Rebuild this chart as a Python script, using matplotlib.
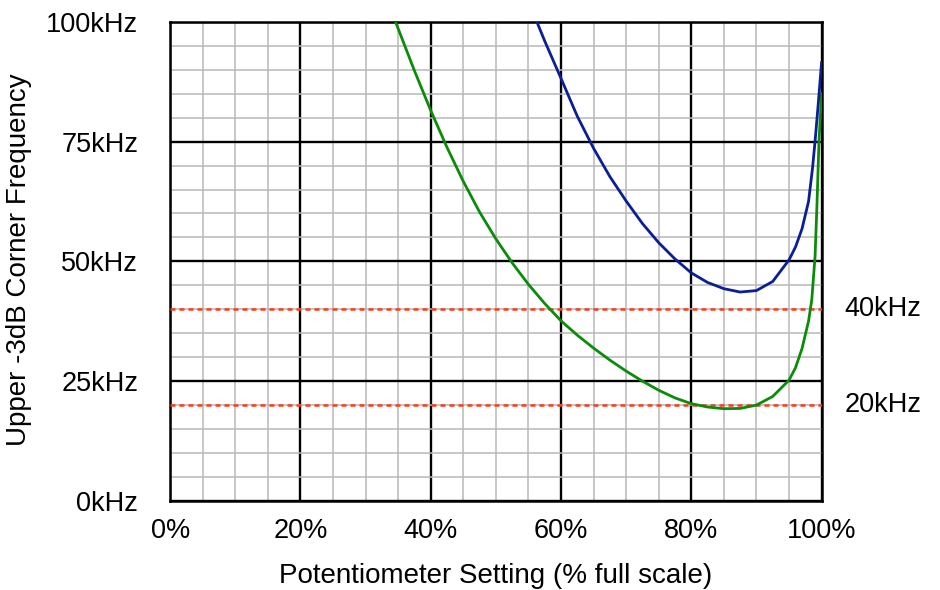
import numpy as np
import matplotlib
matplotlib.use("Agg")
import matplotlib.pyplot as plt
from matplotlib.ticker import MultipleLocator, FuncFormatter

plt.rcParams['font.family'] = ['Liberation Sans', 'DejaVu Sans']
plt.rcParams['font.size'] = 19.5

# green curve (pot setting %, upper corner kHz)
green_x = [34.6, 35, 37.5, 40, 42.5, 45, 47.5, 50, 52.5, 55, 57.5, 60, 62.5, 65,
           67.5, 70, 72.5, 75, 77.5, 80, 82.5, 85, 87.5, 90, 92.5, 95, 96, 97, 98,
           98.5, 99, 99.3, 99.6, 100]
green_y = [100, 98.6, 89.8, 81.5, 73.8, 66.7, 60.3, 54.7, 49.7, 45.2, 41.2, 37.6, 34.6, 31.9,
           29.4, 27.1, 25.0, 23.1, 21.5, 20.3, 19.6, 19.25, 19.3, 20.0, 21.8, 25.2, 27.8, 31.8, 37.5,
           42, 51, 62, 75, 85]

# blue curve
blue_x = [56.3, 57.5, 60, 62.5, 65, 67.5, 70, 72.5, 75, 77.5, 80, 82.5, 85, 87.5,
          90, 92.5, 95, 96, 97, 98, 98.6, 99, 99.5, 100]
blue_y = [100, 96, 88.2, 80.3, 73.6, 67.7, 62.6, 57.9, 53.9, 50.5, 47.6, 45.6, 44.3, 43.6,
          43.9, 45.8, 50.3, 53, 56.8, 62.5, 69.3, 75, 83, 91.5]

ref_levels = [40, 20]
ref_labels = ['40kHz', '20kHz']

fig = plt.figure(figsize=(9.4, 5.9), dpi=100)
ax = fig.add_axes([0.181, 0.151, 0.693, 0.812])

ax.set_xlim(0, 100)
ax.set_ylim(0, 100)
ax.xaxis.set_major_locator(MultipleLocator(20))
ax.xaxis.set_minor_locator(MultipleLocator(5))
ax.yaxis.set_major_locator(MultipleLocator(25))
ax.yaxis.set_minor_locator(MultipleLocator(5))
ax.xaxis.set_major_formatter(FuncFormatter(lambda v, p: '%d%%' % v))
ax.yaxis.set_major_formatter(FuncFormatter(lambda v, p: '%dkHz' % v))

ax.grid(True, which='minor', color='#b8b8b8', linewidth=1.1)
ax.grid(True, which='major', color='black', linewidth=1.7)
ax.set_axisbelow(True)
ax.tick_params(which='both', length=0)
ax.tick_params(axis='x', pad=12)
ax.tick_params(axis='y', pad=23)
for s in ax.spines.values():
    s.set_linewidth(1.8)

for lvl, lab in zip(ref_levels, ref_labels):
    ax.axhline(lvl, color='#ff3a1a', linewidth=1.8, dashes=(2, 1.6), zorder=3)
    ax.text(103.5, lvl, lab, va='center', ha='left', fontsize=19.5)

ax.plot(green_x, green_y, color='#0a8c0a', linewidth=2.0, zorder=4)
ax.plot(blue_x, blue_y, color='#0a1e96', linewidth=2.0, zorder=4)

ax.set_xlabel('Potentiometer Setting (% full scale)', fontsize=20, labelpad=14)
fig.text(19 / 940, 1 - 260 / 590, 'Upper -3dB Corner Frequency', fontsize=20,
         rotation=90, ha='center', va='center')

fig.savefig('out.png', dpi=100)
